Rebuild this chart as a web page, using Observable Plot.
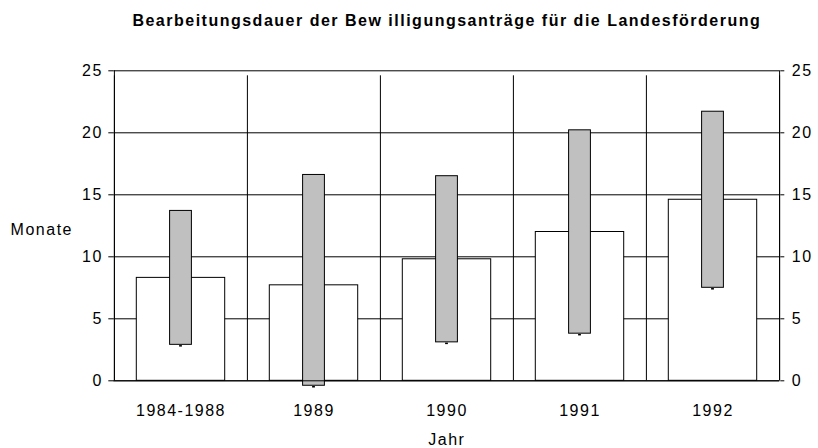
<!DOCTYPE html>
<html>
<head>
<meta charset="utf-8">
<script src="https://cdn.jsdelivr.net/npm/d3@7"></script>
<script src="https://cdn.jsdelivr.net/npm/@observablehq/plot@0.6"></script>
<style>
  html, body { margin: 0; padding: 0; background: #fff; }
  #chart svg text { letter-spacing: 1.5px; }
</style>
</head>
<body>
<div id="chart"></div>
<script>
const title = "Bearbeitungsdauer der Bew illigungsanträge für die Landesförderung";
const categories = ["1984-1988", "1989", "1990", "1991", "1992"];
const avgMonths = [8.3, 7.7, 9.8, 12.0, 14.6];
const lowMonths = [2.9, -0.4, 3.1, 3.8, 7.5];
const highMonths = [13.7, 16.6, 16.5, 20.2, 21.7];
const yTicks = [0, 5, 10, 15, 20, 25];
const xLabel = "Jahr";
const yLabel = "Monate";

const W = 818, H = 448;
const mL = 113.3, mR = 38.7, mT = 70.3, mB = 67.7;
const bw = (W - mL - mR) / categories.length;

const rows = categories.map((c, i) => ({cat: c, avg: avgMonths[i], low: lowMonths[i], high: highMonths[i]}));
const font = "'Liberation Sans', Arial, sans-serif";

const chart = Plot.plot({
  width: W,
  height: H,
  marginLeft: mL,
  marginRight: mR,
  marginTop: mT,
  marginBottom: mB,
  style: {fontFamily: font, fontSize: "16px", color: "#000", background: "#fff"},
  x: {domain: categories, paddingInner: 0, paddingOuter: 0},
  y: {domain: [0, 25]},
  marks: [
    // horizontal gridlines
    Plot.ruleY(yTicks, {stroke: "#000", strokeWidth: 1}),
    // vertical gridlines at category boundaries, extending below axis as ticks
    Plot.ruleX(categories, {x: d => d, y1: 0, y2: 25, dx: -bw / 2, insetBottom: -5, stroke: "#000"}),
    Plot.ruleX(categories.slice(-1), {x: d => d, y1: 0, y2: 25, dx: bw / 2, insetBottom: -5, stroke: "#000"}),
    // white bars (average)
    Plot.barY(rows, {x: "cat", y1: 0, y2: "avg", fill: "#fff", stroke: "#000", strokeWidth: 1, insetLeft: 22.3, insetRight: 22.3}),
    // gray floating bars (range)
    Plot.barY(rows, {x: "cat", y1: "low", y2: "high", fill: "#c0c0c0", stroke: "#000", strokeWidth: 1, insetLeft: 55.6, insetRight: 55.6}),
    // small low-end marks under the range bars
    Plot.tickY(rows, {x: "cat", y: "low", dy: 1, inset: 65.1, stroke: "#000", strokeWidth: 1.5}),
    // axis lines
    Plot.ruleY([0], {stroke: "#000"}),
    Plot.ruleX(categories.slice(0, 1), {x: d => d, y1: 0, y2: 25, dx: -bw / 2, stroke: "#000"}),
    Plot.ruleX(categories.slice(-1), {x: d => d, y1: 0, y2: 25, dx: bw / 2, stroke: "#000"}),
    // axes
    Plot.axisY(yTicks, {anchor: "left", tickSize: 5, tickPadding: 6, label: null, stroke: "#000", fill: "#000", fontSize: 16}),
    Plot.axisY(yTicks, {anchor: "right", tickSize: 4, tickPadding: 8, label: null, stroke: "#000", fill: "#000", fontSize: 16}),
    Plot.axisX({anchor: "bottom", tickSize: 0, tickPadding: 24, label: null, fill: "#000", fontSize: 16}),
    // title and axis titles
    Plot.text([title], {frameAnchor: "top", dy: -56, lineAnchor: "top", fontWeight: "bold", fontSize: 16, fill: "#000"}),
    Plot.text([yLabel], {frameAnchor: "left", dx: -72, dy: 4, textAnchor: "middle", fontSize: 16, fill: "#000"}),
    Plot.text([xLabel], {frameAnchor: "bottom", dy: 53, lineAnchor: "top", fontSize: 16, fill: "#000"})
  ]
});
document.getElementById("chart").appendChild(chart);
</script>
</body>
</html>
